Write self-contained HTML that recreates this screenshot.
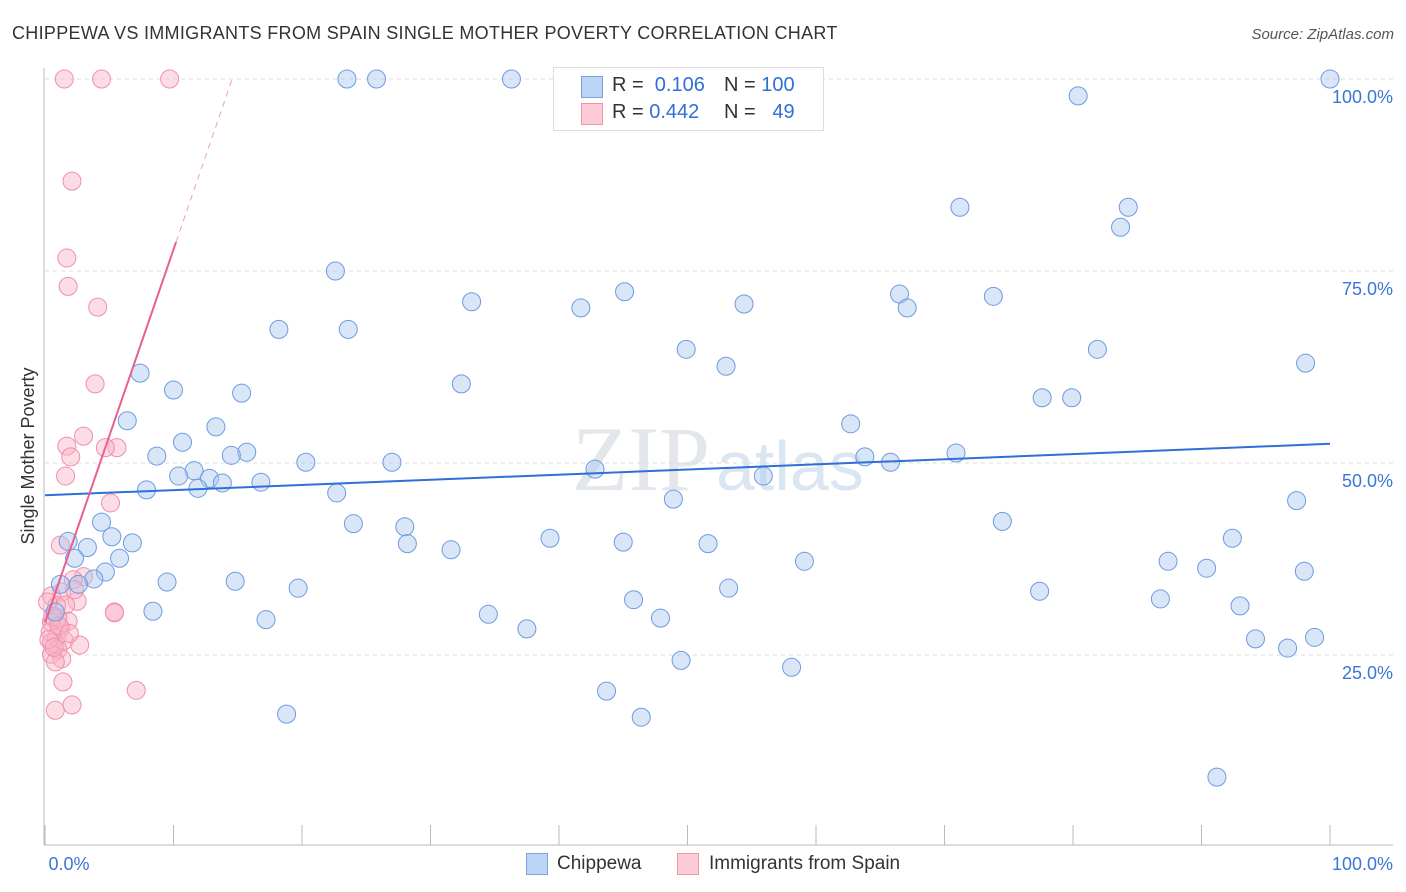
<!DOCTYPE html>
<html><head><meta charset="utf-8"><style>
body{margin:0;background:#fff;font-family:"Liberation Sans",sans-serif;}
#wrap{position:relative;width:1406px;height:892px;overflow:hidden}
</style></head><body><div id="wrap">
<svg id="svg" width="1406" height="892" xmlns="http://www.w3.org/2000/svg">
<text x="12" y="39" font-size="18" letter-spacing="0.3" fill="#333">CHIPPEWA VS IMMIGRANTS FROM SPAIN SINGLE MOTHER POVERTY CORRELATION CHART</text>
<text x="1394" y="39" font-size="15" fill="#555" font-style="italic" text-anchor="end">Source: ZipAtlas.com</text>
<text x="710" y="490" font-size="92" fill="#e3e6ea" text-anchor="end" font-family="Liberation Serif">ZIP</text>
<text x="716" y="490" font-size="70" fill="#dbe6f3">atlas</text>
<text transform="translate(34,456) rotate(-90)" font-size="18" fill="#333" text-anchor="middle">Single Mother Poverty</text>
<g id="grid"></g><g id="pts"></g><g id="lines"></g>
</svg>
<div style="position:absolute;left:553px;top:67px;width:269px;height:62px;border:1px solid #ddd;background:#fff;font-size:20px">
<div style="position:absolute;left:27px;top:8px;width:20px;height:20px;background:#bcd4f5;border:1px solid #7aa3e0"></div>
<div style="position:absolute;left:58px;top:6px;color:#333">R = <span style="color:#2f6fd6">&nbsp;0.106</span></div>
<div style="position:absolute;left:170px;top:6px;color:#333">N = <span style="color:#2f6fd6">100</span></div>
<div style="position:absolute;left:27px;top:35px;width:20px;height:20px;background:#fbcbd8;border:1px solid #ee93ad"></div>
<div style="position:absolute;left:58px;top:33px;color:#333">R = <span style="color:#2f6fd6">0.442</span></div>
<div style="position:absolute;left:170px;top:33px;color:#333">N = <span style="color:#2f6fd6">&nbsp;&nbsp;49</span></div>
</div>
<div style="position:absolute;left:526px;top:853px;width:20px;height:20px;background:#bcd4f5;border:1px solid #7aa3e0"></div>
<div style="position:absolute;left:557px;top:853px;font-size:19px;color:#333">Chippewa</div>
<div style="position:absolute;left:677px;top:853px;width:20px;height:20px;background:#fbcbd8;border:1px solid #ee93ad"></div>
<div style="position:absolute;left:709px;top:853px;font-size:19px;color:#333">Immigrants from Spain</div>
</div>
<script>
const yTicks=[25,50,75,100];
const yTickLabels=["25.0%","50.0%","75.0%","100.0%"];
const xTickLabels=["0.0%","100.0%"];
const blueX=[23.5,25.8,36.3,100,80.4,71.2,84.3,83.7,22.6,45.1,66.5,73.8,33.2,54.4,67.1,41.7,18.2,23.6,49.9,81.9,98.1,53,7.4,32.4,10,15.3,77.6,79.9,6.4,62.7,13.3,10.7,15.7,14.5,8.7,70.9,63.8,20.3,27,65.8,42.8,11.6,10.4,55.9,12.8,13.8,16.8,11.9,7.9,22.7,48.9,97.4,4.4,24,74.5,28,1.8,5.2,39.3,92.4,6.8,28.2,45,51.6,3.3,31.6,2.3,5.8,59.1,87.4,90.4,98,4.7,3.8,2.6,14.8,9.5,1.2,19.7,53.2,77.4,45.8,86.8,93,8.4,0.8,34.5,17.2,47.9,37.5,98.8,94.2,96.7,49.5,58.1,43.7,18.8,46.4,91.2];
const blueY=[100,100,100,100,97.8,83.3,83.3,80.7,75,72.3,72,71.7,71,70.7,70.2,70.2,67.4,67.4,64.8,64.8,63,62.6,61.7,60.3,59.5,59.1,58.5,58.5,55.5,55.1,54.7,52.7,51.4,51,50.9,51.3,50.8,50.1,50.1,50.1,49.2,49,48.3,48.3,48,47.4,47.5,46.7,46.5,46.1,45.3,45.1,42.3,42.1,42.4,41.7,39.8,40.4,40.2,40.2,39.6,39.5,39.7,39.5,39,38.7,37.6,37.6,37.2,37.2,36.3,35.9,35.8,34.9,34.2,34.6,34.5,34.2,33.7,33.7,33.3,32.2,32.3,31.4,30.7,30.6,30.3,29.6,29.8,28.4,27.3,27.1,25.9,24.3,23.4,20.3,17.3,16.9,9.1];
const pinkX=[1.5,4.4,9.7,2.1,1.7,1.8,4.1,3.9,3,1.7,5.6,4.7,2,1.6,5.1,1.2,3,2.2,1.3,0.5,2.5,1.6,0.9,5.4,1.8,0.5,1.2,0.4,0.9,1.5,0.5,2.7,1,0.5,1.3,0.8,1.4,7.1,2.1,0.8,0.3,1,0.2,5.4,0.6,1.1,2.3,0.7,1.9];
const pinkY=[100,100,100,86.7,76.7,73,70.3,60.3,53.5,52.2,52,52,50.8,48.3,44.8,39.3,35.2,34.8,33.2,32.7,32,31.5,31.4,30.6,29.4,29.3,28.5,28,27.3,26.9,26.6,26.3,25.7,25.1,24.5,24.1,21.5,20.4,18.5,17.8,27,29.8,31.9,30.5,30,28.8,33.5,26,27.8];
const blueTrend=[45.8,52.5];
const pinkTrend=[29.2,4.86];
const X0=45,X1=1330,Y0=847,Y100=79;
const sx=v=>X0+(X1-X0)*v/100, sy=v=>Y0-(Y0-Y100)*v/100;
const NS="http://www.w3.org/2000/svg";
function mk(tag,attrs,parent){const e=document.createElementNS(NS,tag);for(const k in attrs)e.setAttribute(k,attrs[k]);document.getElementById(parent).appendChild(e);return e;}
yTicks.forEach((t,i)=>{
 const l=mk('line',{x1:X0,x2:1393,y1:sy(t),y2:sy(t),stroke:'#ddd','stroke-dasharray':'4,4'},'grid');
 
 
 const tx=mk('text',{x:1393,y:sy(t)+24,'font-size':18,fill:'#3a76d6','text-anchor':'end'},'grid');
 tx.textContent=yTickLabels[i];
 
 
});
let ax=mk('line',{x1:44,x2:44,y1:68,y2:845,stroke:'#bbb'},'grid');


ax=mk('line',{x1:44,x2:1393,y1:845,y2:845,stroke:'#bbb'},'grid');


for(let i=0;i<=10;i++){const t=mk('line',{x1:sx(i*10),x2:sx(i*10),y1:825,y2:845,stroke:'#bbb'},'grid');
 
 }
[[X0+24,0],[1393,1]].forEach(([x,i])=>{const t=mk('text',{x:x,y:870,'font-size':18,fill:'#3a76d6','text-anchor':i?'end':'middle'},'grid');t.textContent=xTickLabels[i];
 
 });
pinkX.forEach((v,i)=>{const c=mk('circle',{cx:sx(v),cy:sy(pinkY[i]),r:9,fill:'rgba(248,180,200,0.45)',stroke:'#f08fab','stroke-width':1},'pts');
 
 });
blueX.forEach((v,i)=>{const c=mk('circle',{cx:sx(v),cy:sy(blueY[i]),r:9,fill:'rgba(170,200,240,0.45)',stroke:'#6d9be0','stroke-width':1},'pts');
 
 });
let tl=mk('line',{x1:sx(0),y1:sy(blueTrend[0]),x2:sx(100),y2:sy(blueTrend[1]),stroke:'#2f6fd6','stroke-width':2},'lines');


const pEnd=10.2, pMax=(100-pinkTrend[0])/pinkTrend[1];
tl=mk('line',{x1:sx(0),y1:sy(pinkTrend[0]),x2:sx(pEnd),y2:sy(pinkTrend[0]+pinkTrend[1]*pEnd),stroke:'#e8608e','stroke-width':2},'lines');


tl=mk('line',{x1:sx(pEnd),y1:sy(pinkTrend[0]+pinkTrend[1]*pEnd),x2:sx(pMax),y2:sy(100),stroke:'#eda0b8','stroke-width':1,'stroke-dasharray':'6,5'},'lines');


</script></body></html>
